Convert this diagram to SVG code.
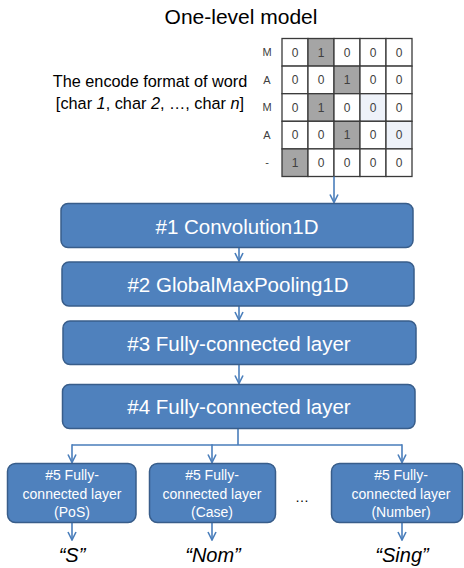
<svg xmlns="http://www.w3.org/2000/svg" width="464" height="568" viewBox="0 0 464 568">
<style>
text{font-family:"Liberation Sans",Arial,sans-serif}
.title{font-size:21px;fill:#000}
.lab{font-size:16.3px;fill:#000}
.cell{fill:#fff;stroke:#3a3a3a;stroke-width:1.3}
.dark{fill:#a5a5a5}
.light{fill:#eef2f9}
.num{font-size:12px;fill:#404040;text-anchor:middle}
.row{font-size:11px;fill:#404040;text-anchor:middle}
.box{fill:#4f81bd;stroke:#385d8a;stroke-width:1.5}
.bt{font-size:20.5px;fill:#fff;text-anchor:middle}
.st{font-size:14px;fill:#fff;text-anchor:middle}
.out{font-size:20px;font-style:italic;fill:#000;text-anchor:middle}
.con{fill:none;stroke:#4a7ebb;stroke-width:1.6}
</style>
<defs>
<marker id="ah" viewBox="0 0 10 10" refX="9" refY="5" markerWidth="10" markerHeight="10" markerUnits="userSpaceOnUse" orient="auto">
<path d="M1,1 L9,5 L1,9" fill="none" stroke="#4a7ebb" stroke-width="1.6"/>
</marker>
</defs>
<text class="title" x="241" y="23.5" text-anchor="middle">One-level model</text>
<g id="input-label">
<text class="lab" x="150" y="87" text-anchor="middle">The encode format of word</text>
<text class="lab" x="150" y="109" text-anchor="middle">[char <tspan font-style="italic">1</tspan>, char <tspan font-style="italic">2</tspan>, …, char <tspan font-style="italic">n</tspan>]</text>
</g>
<g id="grid">
<g class="row">
<text class="row" x="267" y="56">M</text>
<text class="row" x="267" y="84">A</text>
<text class="row" x="267" y="111">M</text>
<text class="row" x="267" y="139">A</text>
<text class="row" x="267" y="166">-</text>
</g>
<g>
<rect class="cell" x="282" y="38.5" width="26" height="27.6"/>
<rect class="cell dark" x="308" y="38.5" width="26" height="27.6"/>
<rect class="cell" x="334" y="38.5" width="26" height="27.6"/>
<rect class="cell" x="360" y="38.5" width="26" height="27.6"/>
<rect class="cell" x="386" y="38.5" width="26" height="27.6"/>
<rect class="cell" x="282" y="66.1" width="26" height="27.6"/>
<rect class="cell" x="308" y="66.1" width="26" height="27.6"/>
<rect class="cell dark" x="334" y="66.1" width="26" height="27.6"/>
<rect class="cell" x="360" y="66.1" width="26" height="27.6"/>
<rect class="cell" x="386" y="66.1" width="26" height="27.6"/>
<rect class="cell" x="282" y="93.7" width="26" height="27.6"/>
<rect class="cell dark" x="308" y="93.7" width="26" height="27.6"/>
<rect class="cell" x="334" y="93.7" width="26" height="27.6"/>
<rect class="cell light" x="360" y="93.7" width="26" height="27.6"/>
<rect class="cell" x="386" y="93.7" width="26" height="27.6"/>
<rect class="cell" x="282" y="121.3" width="26" height="27.6"/>
<rect class="cell" x="308" y="121.3" width="26" height="27.6"/>
<rect class="cell dark" x="334" y="121.3" width="26" height="27.6"/>
<rect class="cell" x="360" y="121.3" width="26" height="27.6"/>
<rect class="cell light" x="386" y="121.3" width="26" height="27.6"/>
<rect class="cell dark" x="282" y="148.9" width="26" height="27.6"/>
<rect class="cell" x="308" y="148.9" width="26" height="27.6"/>
<rect class="cell" x="334" y="148.9" width="26" height="27.6"/>
<rect class="cell" x="360" y="148.9" width="26" height="27.6"/>
<rect class="cell" x="386" y="148.9" width="26" height="27.6"/>
</g>
<g>
<text class="num" x="295" y="56.5">0</text><text class="num" x="321" y="56.5">1</text><text class="num" x="347" y="56.5">0</text><text class="num" x="373" y="56.5">0</text><text class="num" x="399" y="56.5">0</text>
<text class="num" x="295" y="84">0</text><text class="num" x="321" y="84">0</text><text class="num" x="347" y="84">1</text><text class="num" x="373" y="84">0</text><text class="num" x="399" y="84">0</text>
<text class="num" x="295" y="111.6">0</text><text class="num" x="321" y="111.6">1</text><text class="num" x="347" y="111.6">0</text><text class="num" x="373" y="111.6">0</text><text class="num" x="399" y="111.6">0</text>
<text class="num" x="295" y="139.2">0</text><text class="num" x="321" y="139.2">0</text><text class="num" x="347" y="139.2">1</text><text class="num" x="373" y="139.2">0</text><text class="num" x="399" y="139.2">0</text>
<text class="num" x="295" y="166.8">1</text><text class="num" x="321" y="166.8">0</text><text class="num" x="347" y="166.8">0</text><text class="num" x="373" y="166.8">0</text><text class="num" x="399" y="166.8">0</text>
</g>
</g>
<g id="connectors">
<path class="con" d="M334,176.5 V202.5" marker-end="url(#ah)"/>
<path class="con" d="M239,247.5 V261" marker-end="url(#ah)"/>
<path class="con" d="M239,306 V320" marker-end="url(#ah)"/>
<path class="con" d="M239,364.5 V383.5" marker-end="url(#ah)"/>
<path class="con" d="M238,428.5 V445 M72,445 H402"/>
<path class="con" d="M72,444.2 V462.5" marker-end="url(#ah)"/>
<path class="con" d="M212,444.2 V462.5" marker-end="url(#ah)"/>
<path class="con" d="M402,444.2 V462.5" marker-end="url(#ah)"/>
<path class="con" d="M72,523 V540" marker-end="url(#ah)"/>
<path class="con" d="M212,523 V540" marker-end="url(#ah)"/>
<path class="con" d="M402,523 V540" marker-end="url(#ah)"/>
</g>
<g id="n1"><rect class="box" x="61" y="203.5" width="352" height="44" rx="7"/><text class="bt" x="237" y="233.5">#1 Convolution1D</text></g>
<g id="n2"><rect class="box" x="62" y="262" width="352" height="44" rx="7"/><text class="bt" x="238" y="292">#2 GlobalMaxPooling1D</text></g>
<g id="n3"><rect class="box" x="63" y="321" width="353" height="43.5" rx="7"/><text class="bt" x="239" y="350.5">#3 Fully-connected layer</text></g>
<g id="n4"><rect class="box" x="62.5" y="384.5" width="352.5" height="44" rx="7"/><text class="bt" x="239" y="414">#4 Fully-connected layer</text></g>
<g id="n5a"><rect class="box" x="7.5" y="463.5" width="128.5" height="59" rx="8"/><text class="st" x="72" y="480">#5 Fully-</text><text class="st" x="72" y="498.5">connected layer</text><text class="st" x="72" y="516.5">(PoS)</text></g>
<g id="n5b"><rect class="box" x="149.5" y="463.5" width="126" height="59" rx="8"/><text class="st" x="212" y="480">#5 Fully-</text><text class="st" x="212" y="498.5">connected layer</text><text class="st" x="212" y="516.5">(Case)</text></g>
<g id="n5c"><rect class="box" x="331.5" y="463.5" width="131" height="59" rx="8"/><text class="st" x="401" y="480">#5 Fully-</text><text class="st" x="401" y="498.5">connected layer</text><text class="st" x="401" y="516.5">(Number)</text></g>
<text x="302" y="502" font-size="14" text-anchor="middle" fill="#000" style="font-family:'Liberation Sans',Arial,sans-serif">…</text>
<g id="outputs">
<text class="out" x="72" y="562">“S”</text>
<text class="out" x="213" y="562">“Nom”</text>
<text class="out" x="402" y="562">“Sing”</text>
</g>
</svg>
